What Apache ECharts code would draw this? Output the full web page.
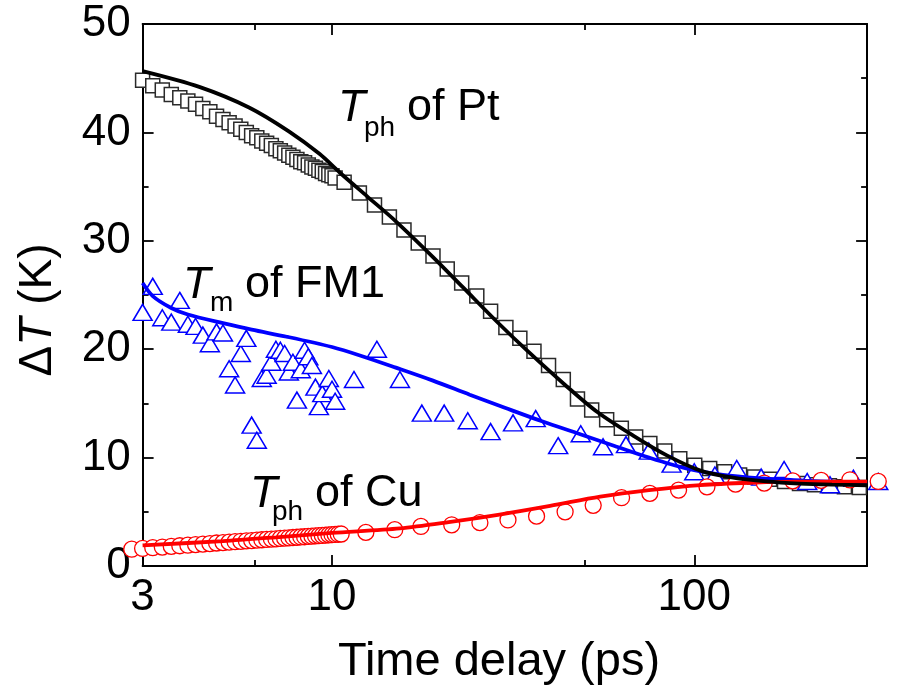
<!DOCTYPE html>
<html>
<head>
<meta charset="utf-8">
<script src="https://cdn.jsdelivr.net/npm/echarts@6/dist/echarts.min.js"></script>
<style>
html,body{margin:0;padding:0;background:#fff;}
#chart{width:897px;height:699px;}
</style>
</head>
<body>
<div id="chart"></div>
<script>
// ---- data ----
var xTickLabels = [3, 10, 100];
var xMajorTicks = [10, 100];
var xMinorTicks = [6.13, 50];

var ptTime = [3.0,3.2,3.4,3.6,3.8,4.0,4.2,4.4,4.6,4.8,5.0,5.2,5.4,5.6,5.8,6.0,6.2,6.4,6.6,6.8,7.0,7.2,7.4,7.6,7.8,8.0,8.2,8.4,8.6,8.8,9.0,9.2,9.4,9.6,9.8,10.0,10.2,
  10.8,11.9,13.1,14.4,15.8,17.3,19.0,20.8,22.8,25.1,27.4,30.2,33.0,36.1,39.6,43.5,47.6,52.1,57.3,62.9,68.9,75.4,82.9,91.2,100.3,110.3,121.3,133.4,146.7,161.4,177.5,195.2,214.7,236.1,259.7,285.6];
var ptDT = [44.8,44.3,43.9,43.5,43.2,42.9,42.6,42.2,41.9,41.5,41.2,40.9,40.6,40.3,40.0,39.7,39.5,39.2,39.0,38.8,38.5,38.3,38.1,37.9,37.7,37.5,37.3,37.2,37.0,36.8,36.7,36.5,36.4,36.2,36.1,36.0,35.8,
  35.4,34.4,33.3,32.2,31.0,29.8,28.6,27.4,26.1,24.9,23.5,22.0,21.0,19.8,18.5,17.2,15.4,14.4,13.5,12.7,11.9,11.3,10.6,9.9,9.3,9.0,8.7,8.4,8.2,8.0,7.8,7.6,7.5,7.4,7.3,7.25];

var ptFitTime = [3,4.3,5.9,7.6,9.25,10.5,12.5,15,19,23,29,35,44,54,68,84,104,128,158,195,240,300];
var ptFitDT   = [45.65,44.2,42.3,40.1,38.0,36.3,34.1,31.8,28.5,25.7,22.3,19.7,16.7,14.2,12.0,10.2,8.8,8.15,7.8,7.6,7.5,7.45];

var fmTime = [3.0,3.2,3.4,3.6,3.8,4.0,4.2,4.4,4.6,4.8,5.0,5.2,5.4,5.6,5.8,6.0,6.2,6.4,6.6,6.8,7.0,7.2,7.4,7.6,7.8,8.0,8.2,8.4,8.6,8.8,9.0,9.2,9.4,9.8,10.0,10.2,
  11.5,13.3,15.4,17.7,20.4,23.7,27.4,31.6,36.5,42.1,48.6,56.0,64.8,74.9,86.6,100,114,131,153,177,205,237,275,322];
var fmDT = [23.4,25.8,22.9,22.5,24.5,22.3,22.1,21.3,20.5,21.6,21.5,18.2,16.7,19.6,21.0,13.0,11.6,17.3,17.6,18.8,20.0,19.9,19.6,17.9,18.8,15.3,18.1,19.9,19.3,18.5,16.5,14.7,15.9,17.3,16.3,15.2,
  17.2,20.0,17.2,14.1,14.1,13.4,12.4,13.2,13.6,11.1,12.2,11.0,11.2,10.6,9.4,8.7,8.4,9.0,8.2,8.9,7.8,7.5,8.1,7.8];

var fmFitTime = [3,3.2,3.6,4,5,6,7.5,10,12,15,19,24,30,38,48,60,75,95,120,150,200,250,300];
var fmFitDT   = [26.1,24.9,23.8,23.2,22.4,21.8,21.15,20.2,19.4,18.3,17.1,15.8,14.6,13.35,12.2,11.1,10.0,9.0,8.4,8.1,7.88,7.76,7.68];

var cuTime = [2.8,3.0,3.2,3.4,3.6,3.8,4.0,4.2,4.4,4.6,4.8,5.0,5.2,5.4,5.6,5.8,6.0,6.2,6.4,6.6,6.8,7.0,7.2,7.4,7.6,7.8,8.0,8.2,8.4,8.6,8.8,9.0,9.2,9.4,9.6,9.8,10.0,10.2,10.4,10.6,
  12.4,14.9,17.6,21.4,25.6,30.6,36.7,44.0,52.6,63.0,75.4,90.5,108.4,130,156,187,224,269,322];
var cuDT = [1.55,1.62,1.69,1.75,1.81,1.87,1.92,1.98,2.02,2.07,2.12,2.16,2.20,2.24,2.28,2.32,2.35,2.39,2.42,2.45,2.48,2.51,2.54,2.57,2.60,2.63,2.65,2.68,2.70,2.73,2.75,2.78,2.80,2.82,2.84,2.87,2.89,2.91,2.93,2.95,
  3.1,3.35,3.65,3.8,4.0,4.25,4.6,5.0,5.6,6.3,6.7,7.0,7.3,7.55,7.65,7.85,7.9,7.95,7.8];

var cuFitTime = [3,5,7,10,15.4,21,29,40,55,75,104,143,200,300];
var cuFitDT   = [1.9,2.3,2.65,3.05,3.47,4.05,4.75,5.55,6.4,7.0,7.47,7.68,7.78,7.78];

function pairs(a, b) { return a.map(function (v, i) { return [v, b[i]]; }); }

var FONT = '"Liberation Sans", Arial, Helvetica, sans-serif';
var chart = echarts.init(document.getElementById('chart'), null, {renderer: 'canvas'});

var gridL = 142.6, gridT = 24, gridW = 724.5, gridH = 542;

function xAxisBase(pos, ticks, len, showLine, showLabel) {
  return {
    type: 'log', logBase: 10, min: 3, max: 300, position: pos, gridIndex: 0,
    axisLine: {show: showLine, onZero: false, lineStyle: {color: '#000', width: 2}},
    axisTick: {show: true, inside: true, length: len, customValues: ticks, lineStyle: {color: '#000', width: 1.8}},
    axisLabel: {show: showLabel, customValues: xTickLabels, margin: 10, color: '#000', fontSize: 44, fontFamily: FONT,
      formatter: function (v) { return String(Math.round(v)); }},
    splitLine: {show: false}, minorTick: {show: false}
  };
}
function yAxisBase(pos, showLabel) {
  return {
    type: 'value', min: 0, max: 50, interval: 10, position: pos, gridIndex: 0,
    axisLine: {show: true, onZero: false, lineStyle: {color: '#000', width: 2}},
    axisTick: {show: true, inside: true, length: 11, lineStyle: {color: '#000', width: 1.8}},
    minorTick: {show: true, splitNumber: 2, length: 6, lineStyle: {color: '#000', width: 1.8}},
    axisLabel: {show: showLabel, margin: 12, color: '#000', fontSize: 44, fontFamily: FONT},
    splitLine: {show: false}
  };
}

var option = {
  backgroundColor: '#fff',
  animation: false,
  grid: {left: gridL, top: gridT, width: gridW, height: gridH, containLabel: false},
  xAxis: [
    xAxisBase('bottom', xMajorTicks, 11, true, true),
    xAxisBase('bottom', xMinorTicks, 6, false, false),
    xAxisBase('top', xMajorTicks, 11, true, false),
    xAxisBase('top', xMinorTicks, 6, false, false)
  ],
  yAxis: [yAxisBase('left', true), yAxisBase('right', false)],
  series: [
    {type: 'scatter', name: 'Pt', data: pairs(ptTime, ptDT), symbol: 'rect', symbolSize: 14, clip: false, z: 2,
      itemStyle: {color: '#fff', borderColor: '#2a2a2a', borderWidth: 1.5, opacity: 1}},
    {type: 'scatter', name: 'FM1', data: pairs(fmTime, fmDT), symbol: 'triangle', symbolSize: [19, 16], clip: false, z: 3,
      itemStyle: {color: '#fff', borderColor: '#0000ff', borderWidth: 1.5, opacity: 1}},
    {type: 'scatter', name: 'Cu', data: pairs(cuTime, cuDT), symbol: 'circle', symbolSize: 16, clip: false, z: 4,
      itemStyle: {color: '#fff', borderColor: '#ff0000', borderWidth: 1.3, opacity: 1}},
    {type: 'line', name: 'FM1 fit', data: pairs(fmFitTime, fmFitDT), smooth: 0.3, showSymbol: false, z: 5,
      lineStyle: {color: '#0000ff', width: 3.8}},
    {type: 'line', name: 'Cu fit', data: pairs(cuFitTime, cuFitDT), smooth: 0.3, showSymbol: false, z: 6,
      lineStyle: {color: '#ff0000', width: 3.8}},
    {type: 'line', name: 'Pt fit', data: pairs(ptFitTime, ptFitDT), smooth: 0.3, showSymbol: false, z: 7,
      lineStyle: {color: '#000', width: 3.8}}
  ],
  graphic: [
    {type: 'text', x: 499, y: 662, z: 10,
      style: {text: 'Time delay (ps)', font: '47px ' + FONT, fill: '#000', align: 'center', verticalAlign: 'middle'}},
    {type: 'text', x: 38, y: 310, rotation: Math.PI / 2, z: 10,
      style: {text: '{a|Δ}{b|T}{a| (K)}', align: 'center', verticalAlign: 'middle', fill: '#000',
        font: '46px ' + FONT,
        rich: {a: {fontSize: 46, fontFamily: FONT, fill: '#000'}, b: {fontSize: 46, fontFamily: FONT, fontStyle: 'italic', fill: '#000'}}}},

    {type: 'text', x: 338, y: 108, style: {text: 'T', font: 'italic 45px ' + FONT, fill: '#000', verticalAlign: 'middle'}},
    {type: 'text', x: 364, y: 128, style: {text: 'ph', font: '28px ' + FONT, fill: '#000', verticalAlign: 'middle'}},
    {type: 'text', x: 407, y: 108, style: {text: 'of Pt', font: '45px ' + FONT, fill: '#000', verticalAlign: 'middle'}},

    {type: 'text', x: 183, y: 285, style: {text: 'T', font: 'italic 45px ' + FONT, fill: '#000', verticalAlign: 'middle'}},
    {type: 'text', x: 210, y: 303, style: {text: 'm', font: '28px ' + FONT, fill: '#000', verticalAlign: 'middle'}},
    {type: 'text', x: 245, y: 285, style: {text: 'of FM1', font: '45px ' + FONT, fill: '#000', verticalAlign: 'middle'}},

    {type: 'text', x: 250, y: 494, style: {text: 'T', font: 'italic 45px ' + FONT, fill: '#000', verticalAlign: 'middle'}},
    {type: 'text', x: 272, y: 512, style: {text: 'ph', font: '28px ' + FONT, fill: '#000', verticalAlign: 'middle'}},
    {type: 'text', x: 315, y: 494, style: {text: 'of Cu', font: '45px ' + FONT, fill: '#000', verticalAlign: 'middle'}}
  ]
};
chart.setOption(option);
</script>
</body>
</html>
